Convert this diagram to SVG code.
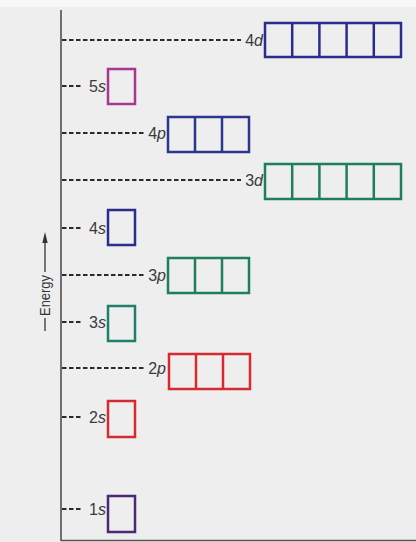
<svg xmlns="http://www.w3.org/2000/svg" width="416" height="542" viewBox="0 0 416 542">
<style>
.orb{fill:none;stroke-width:2.5}
.dash{stroke:#2a2a2a;stroke-width:2;stroke-dasharray:4.5 2.5}
.lbl{font-family:"Liberation Sans",Arial,sans-serif;font-size:16px;fill:#3a3a3a;text-anchor:end}
.it{font-style:italic}
.navy{stroke:#2b2d8c}.mag{stroke:#a8378f}.blue{stroke:#2c3590}.green{stroke:#1f7f5a}.teal{stroke:#1f7f6a}.red{stroke:#d42a30}.purple{stroke:#4a2a72}
</style>
<rect x="0" y="0" width="416" height="542" fill="#eeeeee"/>
<rect x="0" y="0" width="416" height="7" fill="#f8f8f8"/>
<g id="axis">
<line x1="61" y1="10" x2="61" y2="541" stroke="#444" stroke-width="1.5"/>
<line x1="61" y1="540.5" x2="416" y2="540.5" stroke="#555" stroke-width="1.5"/>
<line x1="45" y1="272" x2="45" y2="240" stroke="#333" stroke-width="1.3"/>
<polygon points="45,232 42.3,243 47.7,243" fill="#333"/>
<line x1="45" y1="318" x2="45" y2="331" stroke="#333" stroke-width="1.3"/>
<text transform="translate(50,295.5) rotate(-90)" font-family="'Liberation Sans',Arial,sans-serif" font-size="15" fill="#333" text-anchor="middle" textLength="41" lengthAdjust="spacingAndGlyphs">Energy</text>
</g>
<g id="connectors">
<line class="dash" x1="62" y1="40" x2="241" y2="40"/>
<line class="dash" x1="62" y1="86" x2="83" y2="86"/>
<line class="dash" x1="62" y1="133" x2="146" y2="133"/>
<line class="dash" x1="62" y1="180" x2="241" y2="180"/>
<line class="dash" x1="62" y1="228" x2="83" y2="228"/>
<line class="dash" x1="62" y1="275" x2="146" y2="275"/>
<line class="dash" x1="62" y1="322" x2="83" y2="322"/>
<line class="dash" x1="62" y1="368" x2="146" y2="368"/>
<line class="dash" x1="62" y1="417" x2="83" y2="417"/>
<line class="dash" x1="62" y1="509" x2="83" y2="509"/>
</g>
<g id="n4d">
<text class="lbl" x="263" y="46">4<tspan class="it">d</tspan></text>
<rect class="orb navy" x="265" y="23" width="136" height="34"/>
<path class="orb navy" d="M292.2,23V57M319.4,23V57M346.6,23V57M373.8,23V57"/>
</g>
<g id="n5s">
<text class="lbl" x="106" y="92">5<tspan class="it">s</tspan></text>
<rect class="orb mag" x="108" y="69" width="27" height="35"/>
</g>
<g id="n4p">
<text class="lbl" x="166" y="139">4<tspan class="it">p</tspan></text>
<rect class="orb blue" x="168" y="117" width="81" height="35"/>
<path class="orb blue" d="M195,117V152M222,117V152"/>
</g>
<g id="n3d">
<text class="lbl" x="263" y="186">3<tspan class="it">d</tspan></text>
<rect class="orb green" x="265" y="164" width="136" height="35"/>
<path class="orb green" d="M292.2,164V199M319.4,164V199M346.6,164V199M373.8,164V199"/>
</g>
<g id="n4s">
<text class="lbl" x="106" y="234">4<tspan class="it">s</tspan></text>
<rect class="orb navy" x="108" y="210" width="27" height="35"/>
</g>
<g id="n3p">
<text class="lbl" x="166" y="281">3<tspan class="it">p</tspan></text>
<rect class="orb green" x="168" y="258" width="81" height="35"/>
<path class="orb green" d="M195,258V293M222,258V293"/>
</g>
<g id="n3s">
<text class="lbl" x="106" y="328">3<tspan class="it">s</tspan></text>
<rect class="orb teal" x="108" y="306" width="27" height="35"/>
</g>
<g id="n2p">
<text class="lbl" x="166" y="374">2<tspan class="it">p</tspan></text>
<rect class="orb red" x="169" y="354" width="81" height="35"/>
<path class="orb red" d="M196,354V389M223,354V389"/>
</g>
<g id="n2s">
<text class="lbl" x="106" y="423">2<tspan class="it">s</tspan></text>
<rect class="orb red" x="108" y="401" width="27" height="36"/>
</g>
<g id="n1s">
<text class="lbl" x="106" y="515">1<tspan class="it">s</tspan></text>
<rect class="orb purple" x="108" y="496" width="27" height="36"/>
</g>
</svg>
